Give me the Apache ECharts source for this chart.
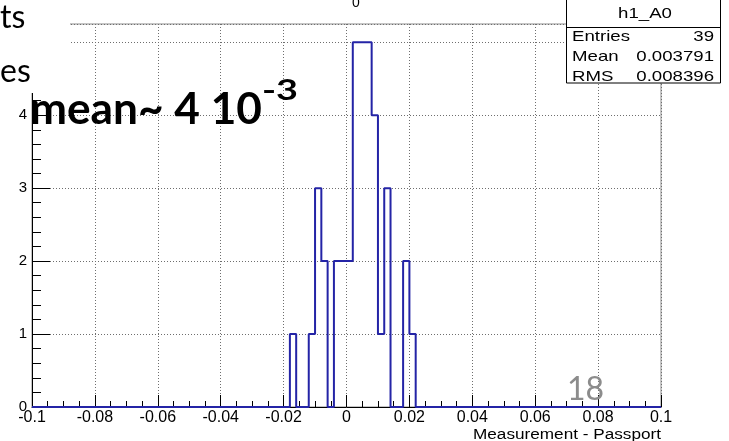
<!DOCTYPE html>
<html>
<head>
<meta charset="utf-8">
<script src="https://cdn.jsdelivr.net/npm/echarts@6/dist/echarts.min.js"></script>
<style>html,body{margin:0;padding:0;background:#fff}#c{width:729px;height:441px}</style>
</head>
<body>
<div id="c"></div>
<script>
// ---- data ----
const histName = 'h1_A0';
const histMin = -0.1;
const histMax = 0.1;
const binWidth = 0.002;
const binLowEdges = [-0.018, -0.012, -0.010, -0.008, -0.004, -0.002, 0.000, 0.002, 0.004, 0.006, 0.008, 0.010, 0.012, 0.018, 0.020];
const binCounts   = [1, 1, 3, 2, 2, 2, 2, 5, 5, 5, 4, 1, 3, 2, 1];
const xTickLabels = ['-0.1', '-0.08', '-0.06', '-0.04', '-0.02', '0', '0.02', '0.04', '0.06', '0.08', '0.1'];
const yTickLabels = ['0', '1', '2', '3', '4', '5'];
const statLabels = ['Entries', 'Mean', 'RMS'];
const statValues = ['39', '0.003791', '0.008396'];
const xTitle = 'Measurement - Passport';

// ---- build step outline from bins ----
const nBins = Math.round((histMax - histMin) / binWidth);
const counts = new Array(nBins).fill(0);
binLowEdges.forEach((lo, k) => {
  const idx = Math.round((lo - histMin) / binWidth);
  counts[idx] = binCounts[k];
});
const stepData = [];
for (let i = 0; i < nBins; i++) {
  const lo = +(histMin + i * binWidth).toFixed(4);
  const hi = +(histMin + (i + 1) * binWidth).toFixed(4);
  stepData.push([lo, counts[i]]);
  stepData.push([hi, counts[i]]);
}

// text measuring helper for horizontal fitting
const cv = document.createElement('canvas').getContext('2d');
function fitScale(text, font, target) {
  cv.font = font;
  const w = cv.measureText(text).width;
  return target / w;
}

const chart = echarts.init(document.getElementById('c'), null, {renderer: 'canvas'});
const gridColor = '#6e6e6e';
const lblFont = 'Liberation Sans';

const mainFont = 'bold 44px Lato';
const mainScale = fitScale('mean~ 4 10', mainFont, 232);
const supFont = 'bold 28px Lato';
const supScale = fitScale('-3', supFont, 36);
const titleScale = fitScale(xTitle, '14px "Liberation Sans"', 188);
const statScale = fitScale('Entries', '15px "Liberation Sans"', 58);

const graphics = [
  // white slide box covering upper-left corner
  {type: 'rect', shape: {x: 0, y: 0, width: 70, height: 93}, style: {fill: '#fff'}, z: 100},
  {type: 'text', x: 0, y: 18, z: 101, style: {text: 'ts', font: '32px Lato', fill: '#000', verticalAlign: 'middle'}},
  {type: 'text', x: 0, y: 72, z: 101, style: {text: 'es', font: '32px Lato', fill: '#000', verticalAlign: 'middle'}},
  {type: 'text', x: 30, y: 110, scaleX: mainScale, z: 101, style: {text: 'mean~ 4 10', font: mainFont, fill: '#000', verticalAlign: 'middle'}},
  {type: 'text', x: 262, y: 91, scaleX: supScale, z: 101, style: {text: '-3', font: supFont, fill: '#000', verticalAlign: 'middle'}},
  // partial title glyph at top
  {type: 'text', x: 356, y: 3, z: 101, style: {text: '0', font: '14px "Liberation Sans"', fill: '#000', align: 'center', verticalAlign: 'middle'}},
  // stats box
  {type: 'rect', shape: {x: 566.5, y: -1, width: 154, height: 84}, style: {fill: '#fff', stroke: '#000', lineWidth: 1}, z: 100},
  {type: 'line', shape: {x1: 566.5, y1: 27.5, x2: 720.5, y2: 27.5}, style: {stroke: '#000', lineWidth: 1}, z: 101},
  {type: 'text', x: 645, y: 14, scaleX: statScale, z: 101, style: {text: histName, font: '15px "Liberation Sans"', fill: '#000', align: 'center', verticalAlign: 'middle'}},
  // x-axis title
  {type: 'text', x: 661, y: 435, scaleX: titleScale, z: 101, style: {text: xTitle, font: '14px "Liberation Sans"', fill: '#000', align: 'right', verticalAlign: 'middle'}},
  // slide number
  {type: 'text', x: 567, y: 390, z: 101, style: {text: '18', font: '32px Lato', fill: '#8c8c8c', verticalAlign: 'middle'}}
];
const statY = [37, 57, 77];
statLabels.forEach((t, i) => {
  graphics.push({type: 'text', x: 572, y: statY[i], scaleX: statScale, z: 101, style: {text: t, font: '15px "Liberation Sans"', fill: '#000', verticalAlign: 'middle'}});
  graphics.push({type: 'text', x: 714, y: statY[i], scaleX: statScale, z: 101, style: {text: statValues[i], font: '15px "Liberation Sans"', fill: '#000', align: 'right', verticalAlign: 'middle'}});
});

chart.setOption({
  animation: false,
  backgroundColor: '#fff',
  grid: {left: 32, right: 68, top: 24, bottom: 34, show: true, borderColor: '#8a8a8a', borderWidth: 1, backgroundColor: 'transparent'},
  xAxis: {
    type: 'value', min: histMin, max: histMax, interval: 0.02,
    axisLine: {show: true, onZero: false, lineStyle: {color: '#000', width: 1}},
    axisTick: {show: true, inside: true, length: 12, lineStyle: {color: '#000'}},
    minorTick: {show: true, splitNumber: 4, length: 6, lineStyle: {color: '#000'}},
    splitLine: {show: true, lineStyle: {color: gridColor, type: [1, 2], width: 1}},
    axisLabel: {
      fontFamily: lblFont, fontSize: 16, color: '#000', margin: 3,
      formatter: v => xTickLabels[Math.round((v - histMin) / 0.02)]
    }
  },
  yAxis: {
    type: 'value', min: 0, max: 5.25, interval: 1,
    axisLine: {show: true, onZero: false, lineStyle: {color: '#000', width: 1}},
    axisTick: {show: true, inside: true, length: 18, lineStyle: {color: '#000'}},
    minorTick: {show: true, splitNumber: 5, length: 9, lineStyle: {color: '#000'}},
    splitLine: {show: true, lineStyle: {color: gridColor, type: [1, 2], width: 1}},
    axisLabel: {
      fontFamily: lblFont, fontSize: 15, color: '#000', margin: 5, showMaxLabel: false,
      formatter: v => (Math.abs(v - Math.round(v)) < 1e-6 ? yTickLabels[Math.round(v)] : '')
    }
  },
  series: [{
    type: 'line', data: stepData, showSymbol: false, symbol: 'none',
    lineStyle: {color: '#2424a6', width: 2}, z: 5, clip: false
  }],
  graphic: graphics
});
</script>
</body>
</html>
